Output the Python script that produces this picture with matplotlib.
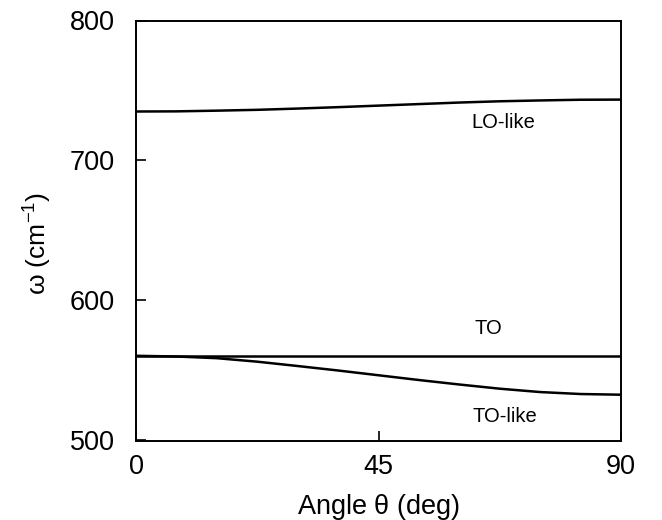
import matplotlib
matplotlib.use("Agg")
import matplotlib.pyplot as plt

plt.rcParams['font.family'] = ['Liberation Sans', 'DejaVu Sans']

angles = [0, 7.5, 15, 22.5, 30, 37.5, 45, 52.5, 60, 67.5, 75, 82.5, 90]
lo_like = [735.0, 735.1, 735.6, 736.2, 737.1, 738.1, 739.2, 740.3, 741.4, 742.3, 742.9, 743.4, 743.5]
to_mode = [560.5] * len(angles)
to_like = [560.5, 560.0, 558.8, 556.3, 553.2, 550.0, 546.6, 543.2, 540.0, 537.0, 534.6, 533.2, 532.7]

x_ticks = [0, 45, 90]
y_ticks = [500, 600, 700, 800]

fig = plt.figure(figsize=(6.62, 5.2), dpi=100)
ax = fig.add_axes([136/662, 1 - 440.5/520, 485/662, 420/520])

for series in (lo_like, to_mode, to_like):
    ax.plot(angles, series, color='black', lw=1.8, solid_capstyle='butt')

ax.set_xlim(0, 90)
ax.set_ylim(500, 800)
ax.set_xticks(x_ticks)
ax.set_yticks(y_ticks)
ax.tick_params(direction='in', length=7, width=1.2, labelsize=19.5, top=False, right=False)
ax.tick_params(axis='y', pad=15)
ax.tick_params(axis='x', pad=10)
for s in ax.spines.values():
    s.set_linewidth(1.4)

ax.set_xlabel(r'Angle $\mathregular{\theta}$ (deg)', fontsize=19.5, labelpad=8)
ax.set_ylabel(r'$\mathregular{\omega}$ (cm$\mathregular{^{-1}}$)', fontsize=19)
ax.yaxis.set_label_coords(-0.170, 0.47)

ax.text(68.1, 727, 'LO-like', fontsize=14.5, ha='center', va='center')
ax.text(65.3, 580, 'TO', fontsize=14.5, ha='center', va='center')
ax.text(68.5, 517, 'TO-like', fontsize=14.5, ha='center', va='center')

fig.savefig('out.png', dpi=100)
